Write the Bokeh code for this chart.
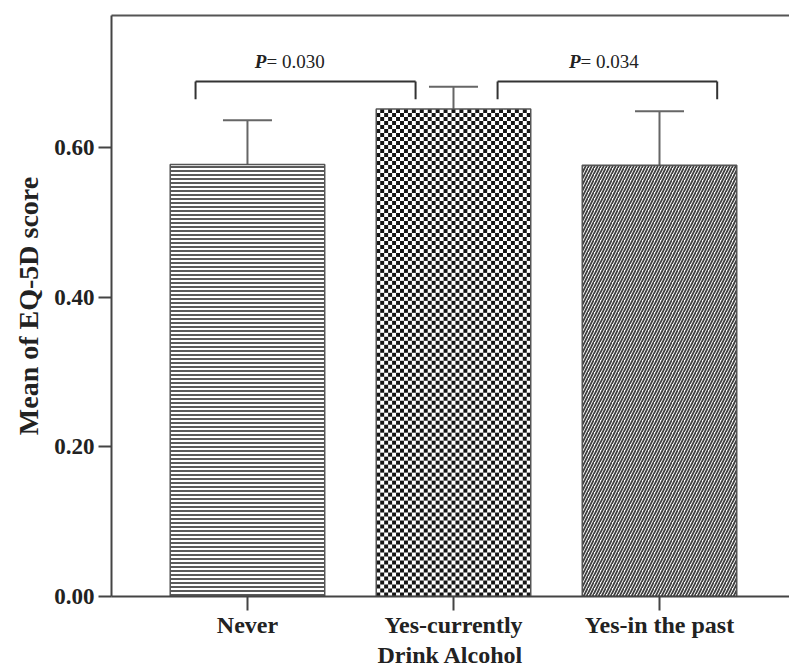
import numpy as np
from bokeh.plotting import figure
from bokeh.models import (ColumnDataSource, Range1d, FixedTicker, LinearAxis,
                          Whisker, TeeHead)
from bokeh.core.properties import value
from bokeh.embed import file_html
from bokeh.resources import INLINE

# ---- data ----
categories = ["Never", "Yes-currently", "Yes-in the past"]
positions = [1, 2, 3]
means = [0.577, 0.651, 0.576]
upper = [0.636, 0.681, 0.648]
lower = [0.517, 0.621, 0.504]
y_ticks = [0.0, 0.2, 0.4, 0.6]
y_tick_labels = ["0.00", "0.20", "0.40", "0.60"]
bracket_left = [0.748, 2.214]
bracket_right = [1.816, 3.280]
bracket_top = [0.688, 0.688]
bracket_leg = [0.664, 0.664]
p_value_labels = ["= 0.030", "= 0.034"]
p_label_x = [1.092, 2.617]
p_label_y = [0.715, 0.715]

FONT = "Liberation Serif"
GRAY = "#555555"
BAR_W = 0.75

p = figure(width=789, height=670, output_backend="svg", toolbar_location=None,
           x_range=Range1d(0.34, 3.631), y_range=Range1d(0, 0.776),
           min_border_left=111, min_border_right=0, min_border_top=15,
           min_border_bottom=73)
p.outline_line_color = None
p.grid.visible = False
p.background_fill_color = "white"

# Never: horizontal lines
p.vbar(x=[positions[0]], top=[means[0]], width=BAR_W, fill_color="white",
       line_color=None, hatch_pattern="-", hatch_color="#5a5a5a",
       hatch_scale=4, hatch_weight=2)
# Yes-in the past: diagonal lines
p.vbar(x=[positions[2]], top=[means[2]], width=BAR_W, fill_color="white",
       line_color=None, hatch_pattern="/", hatch_color="#404040",
       hatch_scale=6, hatch_weight=1.8)

# Yes-currently: checkerboard texture (cells derived from the bar's extent)
ncols = 39
cell_w = BAR_W / ncols
cell_h = 4.0 / 750.0
nrows = int(round(means[1] / cell_h))
cell_h = means[1] / nrows
x0s, x1s, y0s, y1s = [], [], [], []
left = positions[1] - BAR_W / 2
for r in range(nrows):
    for c in range(ncols):
        if (r + c) % 2 == 0:
            x0s.append(left + c * cell_w)
            x1s.append(left + (c + 1) * cell_w)
            y0s.append(r * cell_h)
            y1s.append((r + 1) * cell_h)
p.vbar(x=[positions[1]], top=[means[1]], width=BAR_W, fill_color="white",
       line_color=None)
p.quad(left=x0s, right=x1s, bottom=y0s, top=y1s, fill_color="#151515",
       line_color=None)

# bar outlines
p.vbar(x=positions, top=means, width=BAR_W, fill_color=None,
       line_color=GRAY, line_width=1.5)

# error bars
src = ColumnDataSource(dict(x=positions, upper=upper, lower=lower))
w = Whisker(source=src, base="x", upper="upper", lower="lower",
            line_color="#666666", line_width=2,
            upper_head=TeeHead(size=49, line_color="#666666", line_width=2),
            lower_head=TeeHead(size=49, line_color="#666666", line_width=2))
p.add_layout(w)

# significance brackets
bsrc = ColumnDataSource(dict(x0=bracket_left, x1=bracket_right,
                             yt=bracket_top, yl=bracket_leg))
p.segment(x0="x0", x1="x1", y0="yt", y1="yt", source=bsrc,
          line_color="#333333", line_width=2)
p.segment(x0="x0", x1="x0", y0="yl", y1="yt", source=bsrc,
          line_color="#333333", line_width=2)
p.segment(x0="x1", x1="x1", y0="yl", y1="yt", source=bsrc,
          line_color="#333333", line_width=2)

tsrc = ColumnDataSource(dict(x=p_label_x, y=p_label_y, t=p_value_labels,
                             pp=["P", "P"]))
p.text(x="x", y="y", text="pp", source=tsrc, text_align="right",
       text_baseline="middle", text_font=value(FONT), text_font_size="19px",
       text_font_style="bold italic", text_color="#222222")
p.text(x="x", y="y", text="t", source=tsrc, text_align="left",
       text_baseline="middle", text_font=value(FONT), text_font_size="19px",
       text_color="#222222")

# axes
xa = p.xaxis[0]
xa.ticker = FixedTicker(ticks=positions)
xa.major_label_overrides = {pos: lab for pos, lab in zip(positions, categories)}
xa.minor_tick_line_color = None
xa.major_tick_out = 14
xa.major_tick_in = 0
xa.axis_line_color = "#444444"
xa.axis_line_width = 2
xa.major_tick_line_color = "#444444"
xa.major_tick_line_width = 2
xa.major_label_text_font = FONT
xa.major_label_text_font_style = "bold"
xa.major_label_text_font_size = "24px"
xa.major_label_text_color = "#222222"
xa.major_label_standoff = 1
xa.axis_label = "Drink Alcohol"
xa.axis_label_text_font = FONT
xa.axis_label_text_font_style = "bold"
xa.axis_label_text_font_size = "24px"
xa.axis_label_text_color = "#222222"
xa.axis_label_standoff = 1

ya = p.yaxis[0]
ya.ticker = FixedTicker(ticks=y_ticks)
ya.major_label_overrides = {t: l for t, l in zip(y_ticks, y_tick_labels)}
ya.minor_tick_line_color = None
ya.major_tick_out = 13
ya.major_tick_in = 0
ya.axis_line_color = "#444444"
ya.axis_line_width = 2
ya.major_tick_line_color = "#444444"
ya.major_tick_line_width = 2
ya.major_label_text_font = FONT
ya.major_label_text_font_style = "bold"
ya.major_label_text_font_size = "23px"
ya.major_label_text_color = "#222222"
ya.major_label_standoff = 4
ya.axis_label = "Mean of EQ-5D score"
ya.axis_label_text_font = FONT
ya.axis_label_text_font_style = "bold"
ya.axis_label_text_font_size = "28px"
ya.axis_label_text_color = "#222222"
ya.axis_label_standoff = 7

top_axis = LinearAxis(ticker=FixedTicker(ticks=[]), major_label_text_font_size="0px",
                      axis_line_color="#555555", axis_line_width=2,
                      major_tick_line_color=None, minor_tick_line_color=None)
p.add_layout(top_axis, "above")

open("out.html", "w").write(file_html(p, INLINE))
